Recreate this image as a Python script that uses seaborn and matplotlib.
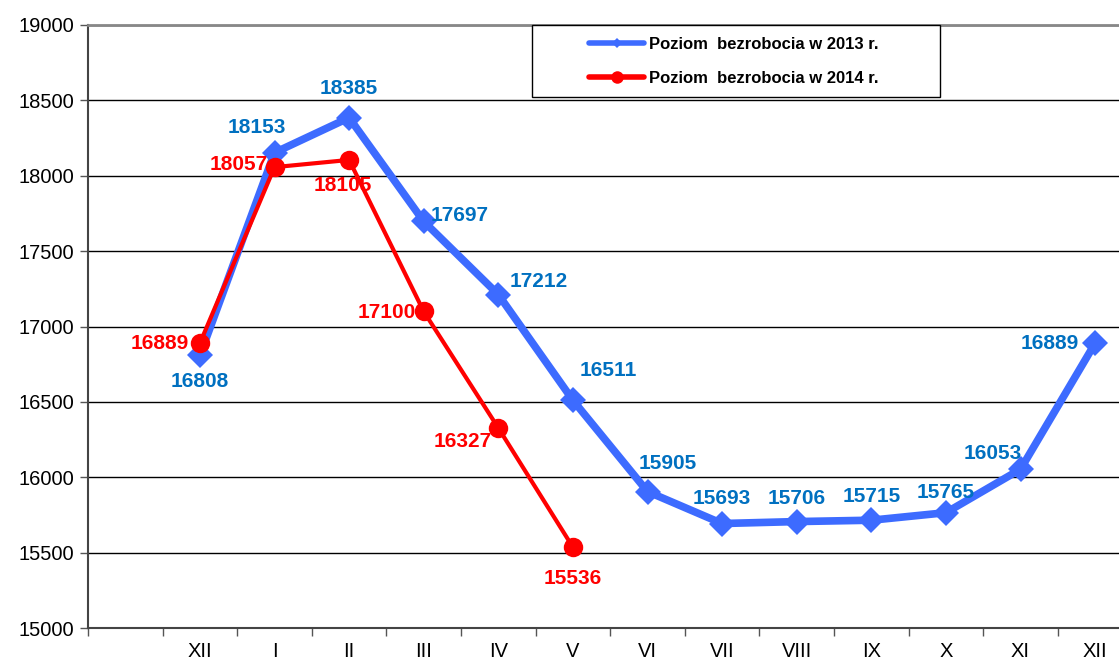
import numpy as np
import pandas as pd
import matplotlib
matplotlib.use("Agg")
import matplotlib.pyplot as plt
import seaborn as sns
from matplotlib.lines import Line2D
from matplotlib.patches import Rectangle

sns.set_style("white")
plt.rcParams['font.family'] = ['Liberation Sans', 'DejaVu Sans']
plt.rcParams['text.color'] = 'black'
plt.rcParams['xtick.color'] = 'black'
plt.rcParams['ytick.color'] = 'black'

categories = ["", "XII", "I", "II", "III", "IV", "V", "VI", "VII", "VIII", "IX", "X", "XI", "XII"]
values_2013 = [16808, 18153, 18385, 17697, 17212, 16511, 15905, 15693, 15706, 15715, 15765, 16053, 16889]
values_2014 = [16889, 18057, 18105, 17100, 16327, 15536]
label_2013 = "Poziom  bezrobocia w 2013 r."
label_2014 = "Poziom  bezrobocia w 2014 r."

# label offsets (pixels) relative to points
off_2013 = [(0, -26), (-18, 25), (0, 29), (36, 6), (40, 13), (35, 30), (20, 28), (0, 25), (0, 23), (0, 24), (0, 20), (-28, 16), (-45, 0)]
off_2014 = [(-40, 0), (-36, 3), (-6, -26), (-37, -1), (-36, -14), (0, -31)]

blue = "#3D6BFF"
red = "#FF0000"
blue_txt = "#0070C0"

x13 = np.arange(1, 1 + len(values_2013))
x14 = np.arange(1, 1 + len(values_2014))
df13 = pd.DataFrame({"x": x13, "y": values_2013})
df14 = pd.DataFrame({"x": x14, "y": values_2014})

fig = plt.figure(figsize=(11.19, 6.62), dpi=100)
W, H = 1119, 662
slot = 74.6
ax = fig.add_axes([88 / W, (H - 628) / H, 14 * slot / W, (628 - 25) / H])

sns.lineplot(data=df13, x="x", y="y", ax=ax, color=blue, linewidth=5.5,
             marker="D", markersize=13, markeredgewidth=0, markerfacecolor=blue, zorder=3)
sns.lineplot(data=df14, x="x", y="y", ax=ax, color=red, linewidth=3,
             marker="o", markersize=14, markeredgewidth=0, markerfacecolor=red, zorder=4)

for xi, yi, (dx, dy) in zip(x13, values_2013, off_2013):
    ax.annotate(str(yi), (xi, yi), xytext=(dx, dy), textcoords="offset pixels",
                ha="center", va="center", fontsize=15, fontweight="bold", color=blue_txt, zorder=5)
for xi, yi, (dx, dy) in zip(x14, values_2014, off_2014):
    ax.annotate(str(yi), (xi, yi), xytext=(dx, dy), textcoords="offset pixels",
                ha="center", va="center", fontsize=15, fontweight="bold", color=red, zorder=5)

ax.set_xlim(-0.5, 13.5)
ax.set_ylim(15000, 19000)
ax.set_yticks(np.arange(15000, 19001, 500))
ax.set_yticklabels([str(v) for v in range(15000, 19001, 500)], fontsize=14.5, color="black")
ax.yaxis.grid(True, color="black", linewidth=1)
ax.set_axisbelow(True)

ax.set_xticks(np.arange(-0.5, 13.6, 1))
ax.set_xticklabels([])
ax.set_xticks(np.arange(0, 14), minor=True)
ax.set_xticklabels(categories, minor=True, fontsize=14.5, color="black")
ax.tick_params(axis="x", which="major", bottom=True, direction="out", length=6, width=1, color="#555555")
ax.tick_params(axis="x", which="minor", bottom=True, length=0, pad=10)
ax.tick_params(axis="y", left=True, direction="out", length=6, width=1, color="#555555", pad=4)
ax.set_xlabel("")
ax.set_ylabel("")

for s in ["left", "bottom"]:
    ax.spines[s].set_color("#444444")
    ax.spines[s].set_linewidth(1.5)
ax.spines["top"].set_color("#888888")
ax.spines["top"].set_linewidth(2)
ax.spines["right"].set_visible(False)

# legend box
box = Rectangle((532 / W, 1 - 97 / H), (940 - 532) / W, (97 - 25) / H, transform=fig.transFigure,
                facecolor="white", edgecolor="black", linewidth=1, zorder=9)
fig.add_artist(box)

handles = [
    Line2D([0], [0], color=blue, linewidth=4, marker="D", markersize=5, markeredgewidth=0),
    Line2D([0], [0], color=red, linewidth=4, marker="o", markersize=9, markeredgewidth=0),
]
leg = fig.legend(handles, [label_2013, label_2014], loc="center left",
                 bbox_to_anchor=(589 / W, 1 - 61.5 / H), bbox_transform=fig.transFigure,
                 prop={"size": 12, "weight": "bold"}, frameon=False,
                 handlelength=3.3, borderpad=0, labelspacing=1.1, borderaxespad=0,
                 handletextpad=0.3)
leg.set_zorder(10)

fig.savefig("out.png", dpi=100)
